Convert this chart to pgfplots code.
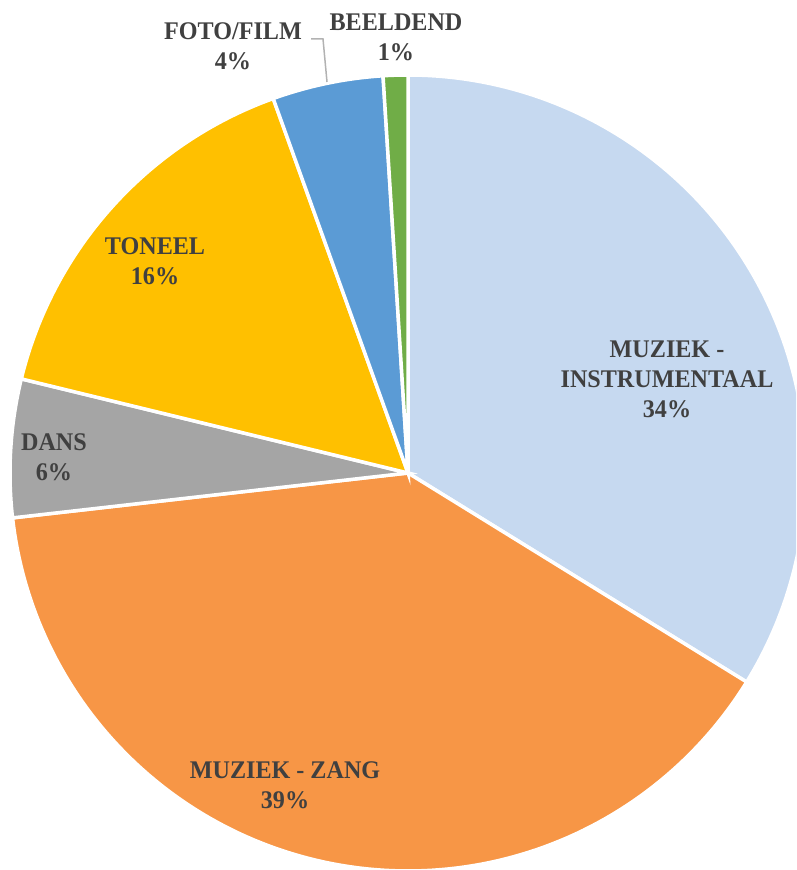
\documentclass[border=0pt]{standalone}
\usepackage{pgfplots}
\pgfplotsset{compat=1.18}
\usepackage{fontspec}
\newfontfamily\lbl{Liberation Serif}[FakeStretch=0.95]
\definecolor{cInstr}{HTML}{C6D9F0}
\definecolor{cZang}{HTML}{F79646}
\definecolor{cDans}{HTML}{A5A5A5}
\definecolor{cToneel}{HTML}{FFC000}
\definecolor{cFoto}{HTML}{5B9BD5}
\definecolor{cBeeld}{HTML}{70AD47}
\definecolor{txt}{HTML}{404040}
\tikzset{slicelbl/.style={font=\lbl\bfseries\fontsize{25.5}{30}\selectfont, text=txt, align=center}}

% slice shares (percent), clockwise from 12 o'clock
\def\vInstr{33.8}
\def\vZang{39.4}
\def\vDans{5.6}
\def\vToneel{15.7}
\def\vFoto{4.5}
\def\vBeeld{1.0}

\begin{document}
\begin{tikzpicture}
\begin{axis}[
  width=796bp, height=870bp, scale only axis,
  xmin=0, xmax=796, ymin=0, ymax=870,
  hide axis, clip=true,
  every axis plot/.append style={draw=white, line width=3.5pt, samples=120},
]
  \addplot[fill=cInstr, domain={90-3.6*\vInstr}:90]
    ({408+398*cos(x)},{397+398*sin(x)}) -- (axis cs:408,397) -- cycle;
  \addplot[fill=cZang, domain={90-3.6*(\vInstr+\vZang)}:{90-3.6*\vInstr}]
    ({408+398*cos(x)},{397+398*sin(x)}) -- (axis cs:408,397) -- cycle;
  \addplot[fill=cDans, domain={90-3.6*(\vInstr+\vZang+\vDans)}:{90-3.6*(\vInstr+\vZang)}]
    ({408+398*cos(x)},{397+398*sin(x)}) -- (axis cs:408,397) -- cycle;
  \addplot[fill=cToneel, domain={90-3.6*(\vInstr+\vZang+\vDans+\vToneel)}:{90-3.6*(\vInstr+\vZang+\vDans)}]
    ({408+398*cos(x)},{397+398*sin(x)}) -- (axis cs:408,397) -- cycle;
  \addplot[fill=cFoto, domain={90-3.6*(\vInstr+\vZang+\vDans+\vToneel+\vFoto)}:{90-3.6*(\vInstr+\vZang+\vDans+\vToneel)}]
    ({408+398*cos(x)},{397+398*sin(x)}) -- (axis cs:408,397) -- cycle;
  \addplot[fill=cBeeld, domain={90-3.6*(\vInstr+\vZang+\vDans+\vToneel+\vFoto+\vBeeld)}:{90-3.6*(\vInstr+\vZang+\vDans+\vToneel+\vFoto)}]
    ({408+398*cos(x)},{397+398*sin(x)}) -- (axis cs:408,397) -- cycle;

  % leader line for FOTO/FILM
  \draw[gray!60, line width=1.5pt] (axis cs:311,831) -- (axis cs:323,831) -- (axis cs:327,788);

  \node[slicelbl] at (axis cs:667,491) {MUZIEK -\\INSTRUMENTAAL\\34\%};
  \node[slicelbl] at (axis cs:285,85) {MUZIEK - ZANG\\39\%};
  \node[slicelbl] at (axis cs:54,413) {DANS\\6\%};
  \node[slicelbl] at (axis cs:155,609) {TONEEL\\16\%};
  \node[slicelbl] at (axis cs:233,824) {FOTO/FILM\\4\%};
  \node[slicelbl] at (axis cs:396,833) {BEELDEND\\1\%};
\end{axis}
\pgfresetboundingbox
\path[use as bounding box] (current axis.south west) rectangle (current axis.north east);
\end{tikzpicture}
\end{document}
